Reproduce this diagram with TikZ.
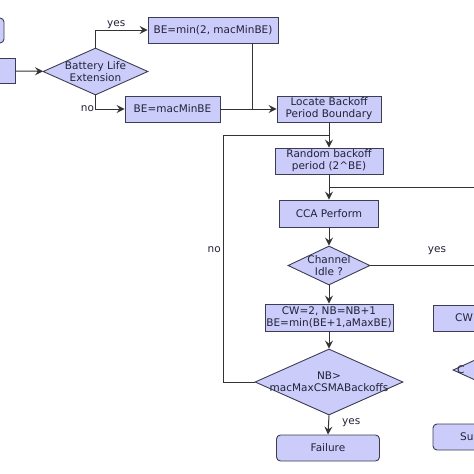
\documentclass[tikz,border=0pt]{standalone}
\usepackage{fontspec}
\setmainfont{DejaVu Sans}
\usetikzlibrary{arrows.meta,shapes.geometric,calc}
\definecolor{boxfill}{HTML}{CCCCFA}
\definecolor{boxline}{HTML}{3C3C55}
\definecolor{wire}{HTML}{333333}
\definecolor{ink}{HTML}{22223A}

\tikzset{
  proc/.style={draw=boxline, fill=boxfill, line width=0.9pt, inner sep=0pt,
    align=center, text=ink, font=\fontsize{10.5}{12.2}\selectfont},
  term/.style={proc, rounded corners=4pt},
  decision/.style={draw=boxline, fill=boxfill, line width=0.9pt, diamond,
    inner sep=0pt, aspect=2},
  dtext/.style={align=center, text=ink, inner sep=0pt,
    font=\fontsize{10.5}{12.2}\selectfont},
  flow/.style={draw=wire, line width=1pt},
  arr/.style={flow, -{Stealth[length=8pt,width=8pt,inset=3pt]}},
  lbl/.style={text=ink, font=\fontsize{10.5}{12}\selectfont, inner sep=1pt}
}

\begin{document}
\begin{tikzpicture}[x=1pt,y=-1pt]
\useasboundingbox (0,0) rectangle (474,474);
\clip (0,0) rectangle (474,474);

% left column
\node[term, minimum width=54pt, minimum height=25pt] (start) at (-23,30.5) {};
\node[proc, minimum width=70pt, minimum height=25pt] (init) at (-20,71) {};
\node[decision, minimum width=105pt, minimum height=47pt] (batt) at (95.5,71.5) {};
\node[dtext] (batttxt) at (batt) {Battery Life\\Extension};
\node[proc, minimum width=130pt, minimum height=26pt] (bemin) at (213,30) {BE=min(2, macMinBE)};
\node[proc, minimum width=95pt, minimum height=26pt] (bemac) at (172.5,109) {BE=macMinBE};

% middle column
\node[proc, minimum width=104pt, minimum height=26pt] (locate) at (329,109) {Locate Backoff\\Period Boundary};
\node[proc, minimum width=108pt, minimum height=26pt] (random) at (329,161) {Random backoff\\period (2\textasciicircum BE)};
\node[proc, minimum width=99pt, minimum height=27pt] (cca) at (329,213.5) {CCA Perform};
\node[decision, minimum width=82pt, minimum height=39pt] (idle) at (329,265.5) {};
\node[dtext] (idletxt) at (idle) {Channel\\Idle ?};
\node[proc, minimum width=128pt, minimum height=27pt] (cwnb) at (329,317.5) {CW=2, NB=NB+1\\BE=min(BE+1,aMaxBE)};
\node[decision, minimum width=148pt, minimum height=66pt] (nbmax) at (329,382) {};
\node[dtext] (nbmaxtxt) at (nbmax) {NB>\\macMaxCSMABackoffs};
\node[term, minimum width=103pt, minimum height=26pt] (fail) at (328,448) {Failure};

% right column (cut off at the edge)
\node[proc, minimum width=104pt, minimum height=26pt] (cwdec) at (485,318) {};
\node[dtext, anchor=west] (cwdectxt) at (455,318) {CW};
\node[decision, minimum width=74pt, minimum height=34pt] (cwzero) at (490,370) {};
\node[dtext, anchor=west] (cwzerotxt) at (457,370) {C};
\node[term, minimum width=104pt, minimum height=26pt] (succ) at (485,437) {};
\node[dtext, anchor=west] (succtxt) at (460,437) {Su};

\coordinate (bemindrop) at ($(bemin.south east)+(-26,0)$);
\coordinate (loopx) at (223,135);
\coordinate (loopin) at (329,135);
\coordinate (retry) at (480,187);
\coordinate (sendout) at (480,265.5);

% connectors
\draw[arr] (init) -- (batt);
\draw[arr] (batt.north) |- (bemin.west) node[lbl, pos=0.7, above] {yes};
\draw[arr] (batt.south) |- (bemac.west) node[lbl, pos=0.5, left] {no};
\draw[flow] (bemindrop) -- (bemindrop |- locate.west);
\draw[arr] (bemac.east) -- (locate.west);
\draw[arr] (locate.south) -- (random.north);
\draw[flow] (nbmax.west) -- (nbmax.west -| loopx) -- (loopx) -- (loopin);
\node[lbl, anchor=east] (nolbl) at (222,250) {no};
\draw[arr] (random.south) -- (cca.north);
\draw[flow] (retry) -- (retry -| cca.north);
\draw[arr] (cca.south) -- (idle.north);
\draw[flow] (idle.east) -- (sendout);
\node[lbl] (yeslbl) at (437,251) {yes};
\draw[arr] (idle.south) -- (cwnb.north);
\draw[arr] (cwnb.south) -- (nbmax.north);
\draw[arr] (nbmax.south) -- (fail.north) node[lbl, pos=0.4, right=12pt] {yes};
\end{tikzpicture}
\end{document}
